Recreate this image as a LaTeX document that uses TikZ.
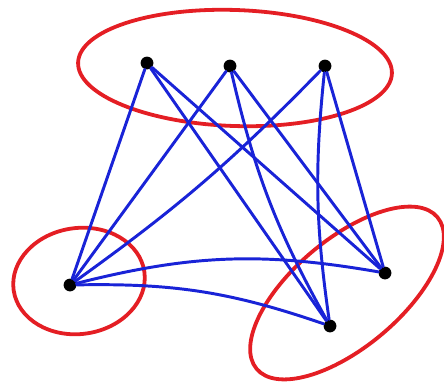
\documentclass[tikz,border=0pt]{standalone}
\usepackage{tikz}

\begin{document}
\begin{tikzpicture}[x=0.025cm, y=0.025cm,
    dot/.style={circle, fill=black, inner sep=0pt, minimum size=0.32cm},
    edge/.style={draw=edgeblue, line width=2.1pt, line cap=round},
    part/.style={draw=partred, line width=2.7pt}]
    \definecolor{edgeblue}{RGB}{25,35,215}
    \definecolor{partred}{RGB}{228,30,36}
    \useasboundingbox (0,0) rectangle (444,384);

    % parts
    \draw[part] (235,316) ellipse[x radius=157, y radius=58, rotate=-2];
    \draw[part] (79,103) ellipse[x radius=66, y radius=53, rotate=8];
    \draw[part] (347,91) ellipse[x radius=118, y radius=54, rotate=40];

    % vertices
    \node[dot] (t1) at (147,321) {};
    \node[dot] (t2) at (230,318) {};
    \node[dot] (t3) at (325,318) {};
    \node[dot] (l) at (70,99) {};
    \node[dot] (r) at (385,111) {};
    \node[dot] (b) at (330,58) {};

    % edges from the top part
    \draw[edge] (t1) -- (l);
    \draw[edge] (t1) -- (r);
    \draw[edge] (t1) -- (b);
    \draw[edge] (t2) -- (l);
    \draw[edge] (t2) -- (r);
    \draw[edge] (t2) to[bend right=8] (b);
    \draw[edge] (t3) to[bend left=5] (l);
    \draw[edge] (t3) -- (r);
    \draw[edge] (t3) to[bend right=7] (b);

    % edges from the left part
    \draw[edge] (l) to[bend left=12] (r);
    \draw[edge] (l) to[bend left=10] (b);
\end{tikzpicture}
\end{document}
